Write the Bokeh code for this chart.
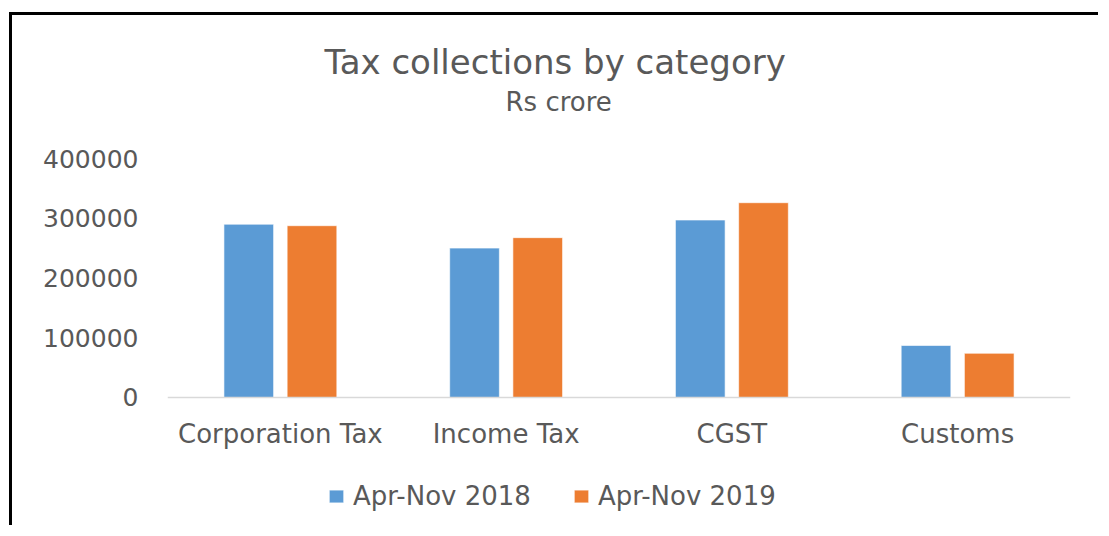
from bokeh.plotting import figure
from bokeh.models import (ColumnDataSource, FactorRange, Range1d, FixedTicker,
                          NumeralTickFormatter, Title, Legend, LegendItem)
from bokeh.transform import dodge
from bokeh.embed import file_html
from bokeh.resources import INLINE

# ---- data ----
categories = ["Corporation Tax", "Income Tax", "CGST", "Customs"]
series_names = ["Apr-Nov 2018", "Apr-Nov 2019"]
apr_nov_2018 = [290000, 250000, 297000, 87000]
apr_nov_2019 = [287500, 267500, 326000, 74000]
y_ticks = [0, 100000, 200000, 300000, 400000]

title_text = "Tax collections by category"
subtitle_text = "Rs crore"

FONT = "DejaVu Sans"
TXT = "#595959"
BLUE = "#5B9BD5"
ORANGE = "#ED7D31"

source = ColumnDataSource(dict(cat=categories, s18=apr_nov_2018, s19=apr_nov_2019))

# frame: top = 400000, extends below zero to leave room for the category labels and legend
p = figure(
    x_range=FactorRange(*categories, range_padding=0),
    y_range=Range1d(-219250, 400000),
    width=1089, height=513,
    output_backend="svg", toolbar_location=None, tools="",
    min_border_left=155, min_border_right=31,
    min_border_top=143, min_border_bottom=0,
)
p.styles = {"border-left": "3px solid black", "border-top": "3px solid black",
            "margin-left": "9px", "margin-top": "12px"}

r1 = p.vbar(x=dodge("cat", -0.14, range=p.x_range), top="s18", width=0.22, source=source,
            fill_color=BLUE, line_color="white", line_alpha=0.6, line_width=1)
r2 = p.vbar(x=dodge("cat", 0.14, range=p.x_range), top="s19", width=0.22, source=source,
            fill_color=ORANGE, line_color="white", line_alpha=0.6, line_width=1)

p.outline_line_color = None
p.background_fill_color = "white"
p.border_fill_color = "white"
p.xgrid.grid_line_color = None
p.ygrid.grid_line_color = None

# y axis
p.yaxis.ticker = FixedTicker(ticks=y_ticks)
p.yaxis.formatter = NumeralTickFormatter(format="0")
p.yaxis.axis_line_color = None
p.yaxis.major_tick_line_color = None
p.yaxis.minor_tick_line_color = None
p.yaxis.major_tick_in = 0
p.yaxis.major_tick_out = 0
p.yaxis.minor_tick_out = 0
p.yaxis.major_label_standoff = 29
p.yaxis.major_label_text_font = FONT
p.yaxis.major_label_text_font_size = "25px"
p.yaxis.major_label_text_color = TXT

# x axis, sitting at y = 0 inside the frame
p.xaxis.fixed_location = 0
p.xaxis.axis_line_color = "#D9D9D9"
p.xaxis.axis_line_width = 1.5
p.xaxis.major_tick_line_color = None
p.xaxis.minor_tick_line_color = None
p.xaxis.major_tick_in = 0
p.xaxis.major_tick_out = 0
p.xaxis.major_label_standoff = 22
p.xaxis.major_label_text_font = FONT
p.xaxis.major_label_text_font_size = "26px"
p.xaxis.major_label_text_color = TXT

# titles stacked above the frame: spacer, subtitle, title
p.add_layout(Title(text=" ", text_font_size="1px", standoff=39, text_color="white"), "above")
p.add_layout(Title(text=subtitle_text, align="left", offset=338, standoff=0,
                   text_font=FONT, text_font_size="26px", text_font_style="normal",
                   text_color=TXT), "above")
p.add_layout(Title(text=title_text, align="left", offset=157, standoff=6,
                   text_font=FONT, text_font_size="34px", text_font_style="normal",
                   text_color=TXT), "above")

legend = Legend(items=[LegendItem(label=series_names[0], renderers=[r1]),
                       LegendItem(label=series_names[1], renderers=[r2])],
                location=(160, 17), orientation="horizontal",
                padding=0, margin=0, spacing=41, label_standoff=8,
                glyph_width=18, glyph_height=16,
                border_line_color=None, background_fill_alpha=0,
                label_text_font=FONT, label_text_font_size="26px", label_text_color=TXT)
p.add_layout(legend, "center")

open("out.html", "w").write(file_html(p, INLINE))
